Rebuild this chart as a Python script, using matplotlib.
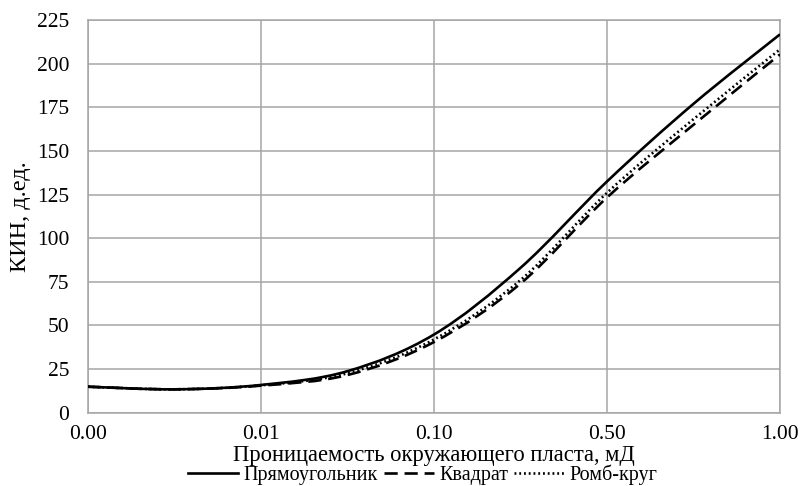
import matplotlib
matplotlib.use("Agg")
import matplotlib.pyplot as plt
import numpy as np
from matplotlib.path import Path
from matplotlib.patches import PathPatch
from matplotlib.lines import Line2D

plt.rcParams['font.family'] = ['Liberation Serif', 'DejaVu Serif']

# Category axis: labelled permeability values, with readings also taken midway between labels
tick_labels = ["0.00", "0.01", "0.10", "0.50", "1.00"]
x_pos = [0, 0.5, 1, 1.5, 2, 2.5, 3, 3.5, 4]

rect_vals = [14.9, 13.4, 15.9, 23.8, 44.8, 83.0, 132.5, 177.0, 216.8]
square_vals = [14.9, 13.4, 15.5, 21.6, 40.5, 74.0, 123.3, 165.0, 205.3]
rhomb_vals = [14.9, 13.4, 15.7, 22.6, 42.0, 76.0, 126.0, 168.2, 208.2]

series_names = ["Прямоугольник", "Квадрат", "Ромб-круг"]


def smooth_path(xs, ys):
    """Bezier path through the points with Catmull-Rom style control points."""
    pts = np.column_stack([xs, ys]).astype(float)
    n = len(pts)
    verts = [pts[0]]
    codes = [Path.MOVETO]
    for i in range(n - 1):
        p0 = pts[i - 1] if i > 0 else pts[i]
        p1 = pts[i]
        p2 = pts[i + 1]
        p3 = pts[i + 2] if i + 2 < n else pts[i + 1]
        c1 = p1 + (p2 - p0) / 6.0
        c2 = p2 - (p3 - p1) / 6.0
        verts += [c1, c2, p2]
        codes += [Path.CURVE4] * 3
    return Path(verts, codes)


fig = plt.figure(figsize=(8.02, 4.86), dpi=100)
ax = fig.add_axes([0.1097, 0.1508, 0.8629, 0.808])

grid_color = "#a6a6a6"
lw = 1.9
styles = [
    dict(linestyle="solid"),
    dict(linestyle=(0, (5.0, 2.6))),
    dict(linestyle=(0, (0.7, 1.1))),
]
handles = []
for vals, name, st in zip([rect_vals, square_vals, rhomb_vals], series_names, styles):
    patch = PathPatch(smooth_path(x_pos, vals), fill=False, edgecolor="black",
                      linewidth=lw, capstyle="butt", zorder=3, **st)
    ax.add_patch(patch)
    handles.append(Line2D([], [], color="black", linewidth=lw, **st))

ax.set_xlim(0, 4)
ax.set_ylim(0, 225)
ax.set_xticks(range(len(tick_labels)))
ax.set_xticklabels(tick_labels)
ax.set_yticks(np.arange(0, 226, 25))
ax.tick_params(axis="both", length=0, labelsize=15.5)
ax.tick_params(axis="x", pad=9)
ax.tick_params(axis="y", pad=13.5)
ax.grid(True, color=grid_color, linewidth=1.1)
ax.set_axisbelow(True)
for s in ax.spines.values():
    s.set_color(grid_color)
    s.set_linewidth(1.1)

ax.set_xlabel("Проницаемость окружающего пласта, мД", fontsize=16.3)
ax.xaxis.set_label_coords(0.5, -0.081)
ax.set_ylabel("КИН, д.ед.", fontsize=17.5)
ax.yaxis.set_label_coords(-0.082, 0.5)

fig.legend(handles, series_names, loc="center", bbox_to_anchor=(0.527, 0.024),
           ncol=3, frameon=False, fontsize=14.5, handlelength=2.5,
           handletextpad=0.25, columnspacing=0.3, borderpad=0.0)

fig.savefig("out.png", dpi=100)
